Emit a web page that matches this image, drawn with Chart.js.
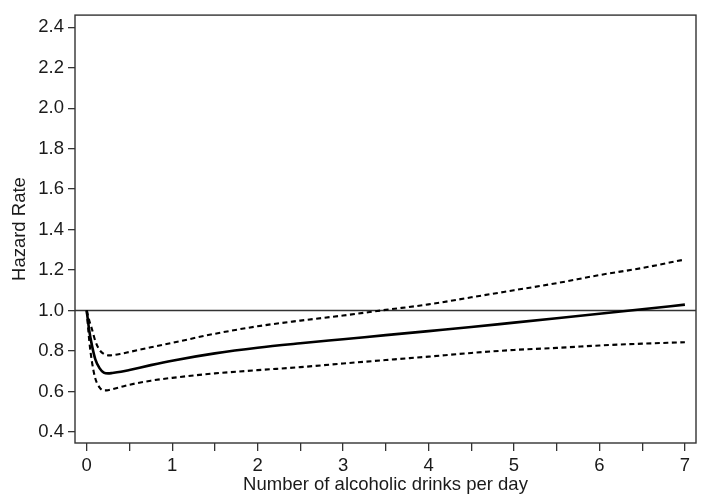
<!DOCTYPE html>
<html>
<head>
<meta charset="utf-8">
<script src="https://cdn.jsdelivr.net/npm/chart.js@4.4.1/dist/chart.umd.min.js"></script>
<style>
body { margin: 0; background: #fff; }
#wrap { width: 702px; height: 497px; }
</style>
</head>
<body>
<div id="wrap"><canvas id="hazardChart" width="702" height="497"></canvas></div>
<script>
// drinks per day and hazard estimates
const drinks  = [0, 0.03, 0.06, 0.1, 0.15, 0.2, 0.25, 0.3, 0.4, 0.5, 0.75, 1, 1.5, 2, 2.5, 3, 3.5, 4, 4.5, 5, 5.5, 6, 6.5, 7];
const hazard  = [1.0, 0.90, 0.83, 0.76, 0.715, 0.693, 0.689, 0.691, 0.697, 0.706, 0.73, 0.752, 0.788, 0.816, 0.838, 0.858, 0.878, 0.898, 0.918, 0.94, 0.962, 0.984, 1.006, 1.029];
const upperCI = [1.0, 0.95, 0.91, 0.85, 0.805, 0.785, 0.778, 0.779, 0.786, 0.795, 0.818, 0.84, 0.885, 0.922, 0.95, 0.975, 1.003, 1.03, 1.065, 1.10, 1.135, 1.175, 1.21, 1.252];
const lowerCI = [1.0, 0.85, 0.75, 0.665, 0.62, 0.605, 0.606, 0.611, 0.622, 0.633, 0.653, 0.667, 0.689, 0.705, 0.72, 0.738, 0.755, 0.772, 0.79, 0.805, 0.815, 0.827, 0.836, 0.843];

const xTicks = [0, 0.5, 1, 1.5, 2, 2.5, 3, 3.5, 4, 4.5, 5, 5.5, 6, 6.5, 7];
const yTicks = [0.4, 0.6, 0.8, 1.0, 1.2, 1.4, 1.6, 1.8, 2.0, 2.2, 2.4];
const refLine = 1.0;

const font = { family: "'Liberation Sans', Arial, sans-serif", size: 18.5 };
const ink = "#1a1a1a";

function pts(ys) {
    return drinks.map((x, i) => ({ x: x, y: ys[i] }));
}

// frame around the plot + the horizontal line at HR = 1
const framePlugin = {
    id: "frame",
    beforeDatasetsDraw(chart) {
        const a = chart.chartArea;
        const c = chart.ctx;
        const y = chart.scales.y.getPixelForValue(refLine);
        c.save();
        c.strokeStyle = "#333";
        c.lineWidth = 1.7;
        c.beginPath();
        c.moveTo(a.left, y);
        c.lineTo(a.right, y);
        c.stroke();
        c.restore();
    },
    afterDatasetsDraw(chart) {
        const a = chart.chartArea;
        const c = chart.ctx;
        c.save();
        c.strokeStyle = "#333";
        c.lineWidth = 1.4;
        c.strokeRect(a.left, a.top, a.right - a.left, a.bottom - a.top);
        c.restore();
    }
};

const ctx = document.getElementById("hazardChart").getContext("2d");

const chart = new Chart(ctx, {
    type: "line",
    data: {
        datasets: [
            {
                label: "Hazard",
                data: pts(hazard),
                borderColor: "#000",
                borderWidth: 2.6,
                pointRadius: 0,
                cubicInterpolationMode: "monotone"
            },
            {
                label: "Upper",
                data: pts(upperCI),
                borderColor: "#000",
                borderWidth: 2.1,
                borderDash: [5, 3.5],
                pointRadius: 0,
                cubicInterpolationMode: "monotone"
            },
            {
                label: "Lower",
                data: pts(lowerCI),
                borderColor: "#000",
                borderWidth: 2.1,
                borderDash: [5, 3.5],
                pointRadius: 0,
                cubicInterpolationMode: "monotone"
            }
        ]
    },
    options: {
        responsive: false,
        animation: false,
        layout: { padding: { left: 0, top: 6, right: 6, bottom: 1 } },
        plugins: {
            legend: { display: false },
            tooltip: { enabled: false }
        },
        scales: {
            x: {
                type: "linear",
                min: -0.137,
                max: 7.13,
                afterBuildTicks: (axis) => { axis.ticks = xTicks.map(v => ({ value: v })); },
                afterFit: (axis) => { axis.height = 53; },
                border: { display: false },
                grid: { drawOnChartArea: false, tickLength: 8, color: "#333", lineWidth: 1.3 },
                ticks: {
                    autoSkip: false,
                    maxRotation: 0,
                    padding: 4,
                    color: ink,
                    font: font,
                    callback: (v) => Number.isInteger(v) ? String(v) : ""
                },
                title: {
                    display: true,
                    text: "Number of alcoholic drinks per day",
                    color: ink,
                    font: font,
                    padding: 0
                }
            },
            y: {
                min: 0.345,
                max: 2.46,
                afterBuildTicks: (axis) => { axis.ticks = yTicks.map(v => ({ value: v })); },
                afterFit: (axis) => { axis.width = 75; },
                border: { display: false },
                grid: { drawOnChartArea: false, tickLength: 7, color: "#333", lineWidth: 1.3 },
                ticks: {
                    padding: 4,
                    color: ink,
                    font: font,
                    callback: (v) => v.toFixed(1)
                },
                title: {
                    display: true,
                    text: "Hazard Rate",
                    color: ink,
                    font: font,
                    padding: { top: 9, bottom: 0 }
                }
            }
        }
    },
    plugins: [framePlugin]
});
</script>
</body>
</html>
